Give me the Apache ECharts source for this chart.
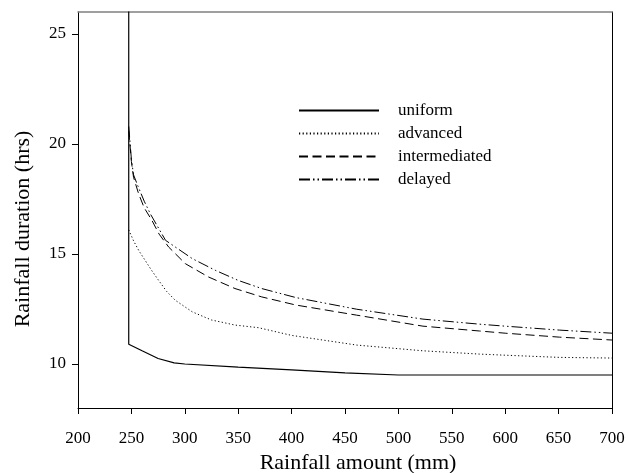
<!DOCTYPE html>
<html>
<head>
<meta charset="utf-8">
<script src="https://cdn.jsdelivr.net/npm/echarts@6/dist/echarts.min.js"></script>
<style>
html,body{margin:0;padding:0;background:#fff;}
#chart{width:629px;height:473px;}
</style>
</head>
<body>
<div id="chart"></div>
<script>
// ---- data ----
const seriesNames = ['uniform', 'advanced', 'intermediated', 'delayed'];
const uniform = [[247.5, 40], [247.5, 10.9], [260, 10.6], [275, 10.25], [290, 10.05], [300, 10.0], [350, 9.86], [400, 9.73], [450, 9.6], [500, 9.5], [550, 9.5], [600, 9.5], [650, 9.5], [700, 9.5]];
const advanced = [[247.5, 16.1], [252, 15.6], [257, 15.15], [263, 14.7], [269, 14.25], [275.5, 13.8], [283, 13.3], [291, 12.9], [307, 12.37], [325, 12.0], [347, 11.77], [369, 11.65], [400, 11.3], [461, 10.86], [523, 10.6], [576, 10.45], [600, 10.4], [651, 10.3], [700, 10.27]];
const intermediated = [[247.5, 20.6], [250, 19.2], [252, 18.49], [256.8, 17.73], [262, 17.1], [269.3, 16.52], [276, 15.9], [285, 15.31], [300.5, 14.56], [322, 13.96], [347, 13.43], [372, 13.05], [404, 12.68], [461, 12.22], [523, 11.72], [576, 11.5], [600, 11.4], [651, 11.22], [700, 11.09]];
const delayed = [[247.5, 20.8], [250, 19.3], [252, 18.6], [256, 18.1], [262, 17.4], [268, 16.8], [282, 15.62], [307, 14.79], [328.5, 14.26], [350, 13.8], [372, 13.43], [404, 13.02], [461, 12.49], [523, 12.04], [576, 11.81], [600, 11.72], [651, 11.54], [700, 11.4]];
const xTicks = [200, 250, 300, 350, 400, 450, 500, 550, 600, 650, 700];
const yTicks = [10, 15, 20, 25];

const FONT = '"Liberation Serif", "DejaVu Serif", serif';
const chart = echarts.init(document.getElementById('chart'), null, {renderer: 'canvas'});

function lineSeries(name, data, type, width) {
  return {
    name: name, type: 'line', data: data, symbol: 'none', clip: true,
    lineStyle: {color: '#000', width: width, type: type},
    itemStyle: {color: '#000'},
    emphasis: {disabled: true}
  };
}

chart.setOption({
  animation: false,
  backgroundColor: '#fff',
  grid: {left: 78, right: 17, top: 12, bottom: 65, containLabel: false, outerBoundsMode: 'none'},
  legend: {
    orient: 'vertical', left: 298, top: 102, padding: 0,
    itemWidth: 80, itemHeight: 12, itemGap: 6,
    data: seriesNames,
    itemStyle: {opacity: 0, borderWidth: 0},
    textStyle: {fontFamily: FONT, fontSize: 17, lineHeight: 17, color: '#000', padding: [0, 0, 0, 14]}
  },
  xAxis: [{
    type: 'value', min: xTicks[0], max: xTicks[xTicks.length - 1], interval: 50,
    axisLine: {show: true, lineStyle: {color: '#000', width: 1}},
    axisTick: {show: true, inside: false, length: 6, lineStyle: {color: '#000'}, customValues: xTicks},
    axisLabel: {fontFamily: FONT, fontSize: 17, color: '#000', margin: 22, customValues: xTicks},
    splitLine: {show: false},
    name: 'Rainfall amount (mm)', nameLocation: 'middle', nameGap: 44,
    nameTextStyle: {fontFamily: FONT, fontSize: 22, color: '#000', padding: [0, 0, 0, 26]}
  }, {
    type: 'value', position: 'top', min: 200, max: 700,
    axisLine: {show: true, lineStyle: {color: '#808080', width: 1.5}},
    axisTick: {show: false}, axisLabel: {show: false}, splitLine: {show: false}
  }],
  yAxis: [{
    type: 'value', min: 8, max: 26,
    axisLine: {show: true, lineStyle: {color: '#000', width: 1}},
    axisTick: {show: true, inside: false, length: 6, lineStyle: {color: '#000'}, customValues: yTicks},
    axisLabel: {fontFamily: FONT, fontSize: 17, color: '#000', margin: 12, customValues: yTicks},
    splitLine: {show: false},
    name: 'Rainfall duration (hrs)', nameLocation: 'middle', nameGap: 44,
    nameTextStyle: {fontFamily: FONT, fontSize: 22, color: '#000', padding: [0, 38, 0, 0]}
  }, {
    type: 'value', position: 'right', min: 8, max: 26,
    axisLine: {show: true, lineStyle: {color: '#000', width: 1}},
    axisTick: {show: false}, axisLabel: {show: false}, splitLine: {show: false}
  }],
  series: [
    lineSeries(seriesNames[0], uniform, 'solid', 1.2),
    lineSeries(seriesNames[1], advanced, [1.2, 2.4], 1),
    lineSeries(seriesNames[2], intermediated, [9, 4.5], 1),
    lineSeries(seriesNames[3], delayed, [11, 3, 1.5, 3, 1.5, 3], 1)
  ]
});
</script>
</body>
</html>
